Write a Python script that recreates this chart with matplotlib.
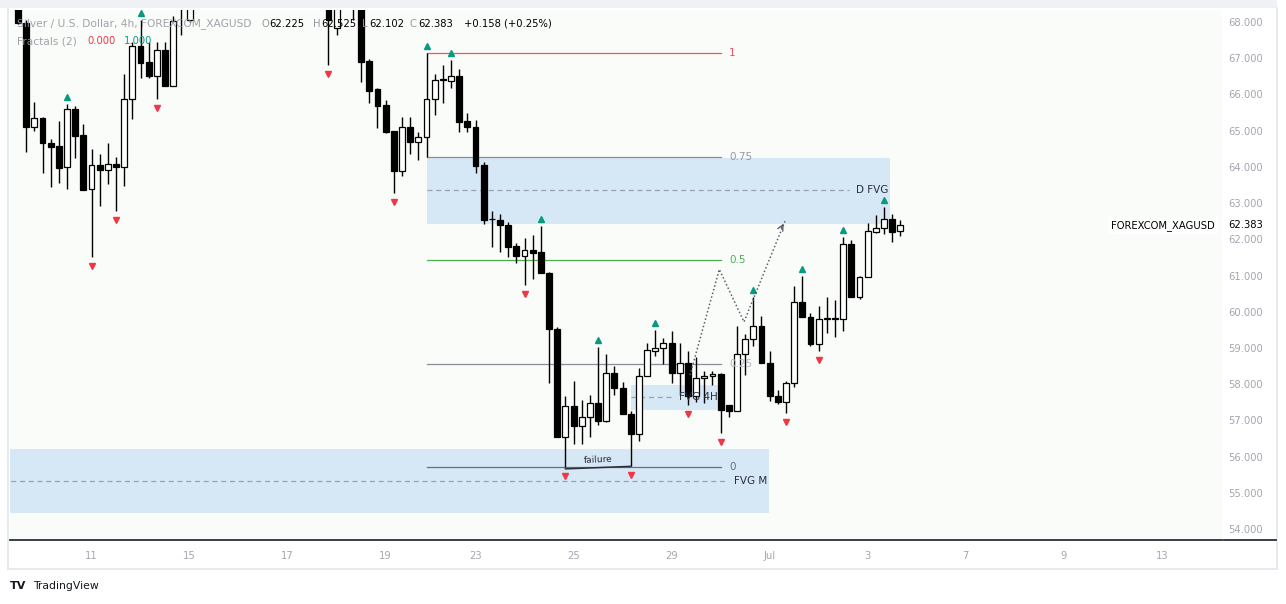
import matplotlib
matplotlib.use("Agg")
import matplotlib.pyplot as plt
import matplotlib.transforms as mtrans
from matplotlib.patches import Rectangle
from matplotlib.lines import Line2D

# ---------------- data ----------------
opens = [68.50, 67.98, 65.10, 65.35, 64.66, 64.58, 63.99, 65.60, 64.88, 63.39,
         64.05, 63.90, 64.08, 64.00, 65.87, 67.34, 66.90, 66.51, 67.22, 66.23,
         68.40, 68.05, 69.20, 69.60, 69.90, 69.70, 69.30, 69.80, 70.30, 70.50,
         70.10, 69.80, 70.00, 69.50, 69.20, 69.40, 69.00, 68.80, 68.90, 67.83,
         68.60, 68.70, 68.50, 66.92, 66.15, 65.71, 64.99, 63.88, 65.10, 64.69,
         64.82, 65.87, 66.40, 66.37, 66.50, 65.27, 65.10, 64.05, 62.56, 62.53,
         62.40, 61.81, 61.54, 61.70, 61.65, 61.07, 59.52, 56.54, 57.40, 56.84,
         57.09, 57.48, 56.98, 58.31, 57.90, 57.17, 56.62, 58.22, 58.92, 59.00,
         59.14, 58.31, 58.58, 57.67, 58.17, 58.22, 58.28, 57.42, 57.25, 58.83,
         59.25, 59.60, 58.58, 57.67, 57.50, 58.03, 60.27, 59.85, 59.10, 59.80,
         59.83, 59.80, 61.87, 60.40, 60.96, 62.20, 62.31, 62.56, 62.225]
highs = [68.70, 68.05, 65.79, 65.38, 64.77, 65.27, 65.74, 65.68, 65.18, 64.49,
         64.35, 64.66, 64.27, 66.56, 67.45, 68.05, 67.45, 67.45, 67.45, 68.17,
         69.10, 69.40, 69.80, 70.10, 70.40, 70.00, 69.90, 70.50, 70.80, 70.90,
         70.40, 70.20, 70.30, 69.90, 69.60, 69.70, 69.40, 69.20, 69.10, 68.80,
         69.00, 69.00, 68.70, 66.98, 66.18, 65.84, 64.99, 65.38, 65.38, 64.96,
         67.14, 66.56, 66.81, 66.95, 66.70, 65.49, 65.30, 64.13, 62.78, 62.70,
         62.48, 61.90, 62.04, 62.12, 62.37, 61.10, 59.57, 57.67, 58.08, 57.56,
         57.70, 59.03, 58.83, 58.50, 58.06, 57.25, 58.44, 59.14, 59.50, 59.27,
         59.47, 59.14, 58.92, 58.75, 58.36, 58.36, 58.30, 57.42, 59.60, 59.38,
         60.40, 59.88, 58.92, 57.84, 58.08, 60.71, 61.00, 59.96, 60.16, 60.40,
         60.32, 62.06, 61.98, 60.99, 62.45, 62.67, 62.89, 62.70, 62.525]
lows = [67.95, 64.40, 64.99, 63.83, 63.45, 63.55, 63.39, 64.24, 63.36, 61.51,
        62.92, 63.53, 62.78, 63.47, 65.32, 66.45, 66.45, 65.87, 66.23, 66.23,
        67.64, 68.00, 68.90, 69.30, 69.50, 69.10, 69.00, 69.60, 70.00, 69.90,
        69.60, 69.40, 69.30, 69.00, 68.80, 68.90, 68.60, 68.50, 66.80, 67.64,
        68.40, 68.05, 66.35, 65.76, 65.07, 64.94, 63.28, 63.75, 64.35, 64.19,
        64.27, 65.43, 65.76, 66.18, 64.96, 64.96, 63.83, 62.42, 61.80, 61.65,
        61.51, 61.35, 60.74, 60.90, 61.07, 58.03, 56.54, 55.71, 56.35, 56.35,
        56.54, 56.87, 56.95, 57.70, 57.17, 55.73, 56.43, 58.22, 58.78, 58.56,
        58.03, 57.70, 57.42, 57.50, 57.48, 57.97, 56.64, 57.09, 57.25, 58.25,
        59.06, 58.58, 57.53, 57.45, 57.20, 57.92, 59.85, 59.05, 58.91, 59.41,
        59.30, 59.47, 60.40, 60.35, 60.96, 62.17, 62.14, 61.92, 62.102]
closes = [67.98, 65.10, 65.35, 64.66, 64.55, 63.97, 65.60, 64.85, 63.36, 64.05,
          63.90, 64.08, 64.00, 65.87, 67.34, 66.87, 66.51, 67.22, 66.23, 68.03,
          68.90, 69.20, 69.60, 69.90, 69.70, 69.30, 69.80, 70.30, 70.50, 70.10,
          69.80, 70.00, 69.50, 69.20, 69.40, 69.00, 68.80, 68.90, 68.05, 68.60,
          68.70, 68.50, 66.90, 66.09, 65.68, 64.96, 63.88, 65.10, 64.69, 64.82,
          65.87, 66.40, 66.41, 66.51, 65.24, 65.10, 64.03, 62.53, 62.55, 62.40,
          61.79, 61.54, 61.70, 61.62, 61.07, 59.52, 56.54, 57.40, 56.84, 57.09,
          57.48, 56.98, 58.31, 57.90, 57.17, 56.62, 58.22, 58.94, 59.00, 59.14,
          58.31, 58.58, 57.67, 58.17, 58.22, 58.28, 57.28, 57.25, 58.83, 59.25,
          59.60, 58.58, 57.67, 57.50, 58.03, 60.27, 59.85, 59.10, 59.80, 59.81,
          59.80, 61.87, 60.40, 60.96, 62.23, 62.31, 62.56, 62.20, 62.383]

frac_up_idx = [6, 15, 50, 53, 64, 71, 78, 90, 96, 101, 106]
frac_dn_idx = [9, 12, 17, 38, 46, 62, 67, 75, 82, 86, 94, 98]

x_tick_pos = [9, 21, 33, 45, 56, 68, 80, 92, 104, 116, 128, 140]
x_tick_labels = ['11', '15', '17', '19', '23', '25', '29', 'Jul', '3', '7', '9', '13']
y_ticks = list(range(54, 69))

fib_start, fib_end = 50, 86
fib_levels = ['1', '0.75', '0.5', '0.25', '0']
fib_prices = [67.14, 64.27, 61.43, 58.56, 55.71]

# FVG zones
fvg_names = ['D FVG', 'FVG 4H', 'FVG M']
fvg_x0 = [50.0, 75.0, -2.0]
fvg_x1 = [106.75, 85.9, 91.9]
fvg_bottom = [62.42, 57.28, 54.44]
fvg_top = [64.24, 57.98, 56.21]
fvg_mid = [63.36, 57.64, 55.32]

zig_x = [82.25, 85.84, 88.86, 93.88]
zig_y = [58.25, 61.17, 59.72, 62.50]

fail_x = [67, 75]
fail_y = [55.66, 55.73]

last_price = 62.383

# ---------------- figure ----------------
W, H = 1286, 604
fig = plt.figure(figsize=(W / 100, H / 100), dpi=100)
fig.patch.set_facecolor('white')

def fx(px):
    return px / W

def fy(py):
    return 1 - py / H

L_, R_, T_, B_ = 10, 1222, 10, 540
ax = fig.add_axes([fx(L_), fy(B_), fx(R_) - fx(L_), fy(T_) - fy(B_)])
ax.set_facecolor('#fafcf9')
ppx = 8.17
ax.set_xlim((L_ - 18) / ppx, (R_ - 18) / ppx)
ppy = (529 - 22) / 14.0
ax.set_ylim(68 - (B_ - 22) / ppy, 68 - (T_ - 22) / ppy)

# widget frame
fig.patches.append(Rectangle((0, fy(8)), fx(1277), 8 / H, transform=fig.transFigure,
                             facecolor='#eff1f4', edgecolor='none', zorder=0))
for seg in [((8, 8), (8, 569)), ((1277, 8), (1277, 569)), ((8, 569), (1277, 569))]:
    fig.add_artist(Line2D([fx(seg[0][0]), fx(seg[1][0])], [fy(seg[0][1]), fy(seg[1][1])],
                          color='#e3e6ec', lw=1.2, transform=fig.transFigure))
fig.add_artist(Line2D([fx(1224), fx(1276)], [fy(540), fy(540)], color='#2a2e39', lw=1.3,
                      transform=fig.transFigure))

# spines / ticks
for s in ['top', 'left', 'right']:
    ax.spines[s].set_visible(False)
ax.spines['bottom'].set_color('#2a2e39')
ax.spines['bottom'].set_linewidth(1.3)
ax.yaxis.tick_right()
ax.set_yticks(y_ticks)
ax.set_yticklabels([f'{v:.3f}' for v in y_ticks])
ax.tick_params(axis='y', length=0, pad=4.5, labelsize=7.2, labelcolor='#a3a6af')
ax.set_xticks(x_tick_pos)
ax.set_xticklabels(x_tick_labels)
ax.tick_params(axis='x', length=0, pad=8, labelsize=7.2, labelcolor='#a3a6af')

# FVG zones
for name, x0, x1, b, t, m in zip(fvg_names, fvg_x0, fvg_x1, fvg_bottom, fvg_top, fvg_mid):
    ax.add_patch(Rectangle((x0, b), x1 - x0, t - b, facecolor='#d6e8f5',
                           edgecolor='none', zorder=1))
    lab_w = {'D FVG': 5.0, 'FVG 4H': 5.6, 'FVG M': 5.2}[name]
    ax.plot([x0, x1 - lab_w], [m, m], ls=(0, (4, 3)), color='#9aa1ab', lw=0.9, zorder=2)
    ax.text(x1 - 0.25, m, name, ha='right', va='center', fontsize=7.5, color='#2a2e39', zorder=6)

# Fibonacci levels
fib_line_colors = ['#f7525f', '#8a8d96', '#4caf50', '#8a8d96', '#6a6d78']
fib_text_colors = ['#f7525f', '#9598a1', '#4caf50', '#b2b5be', '#6a6d78']
for lvl, p, lc, tc in zip(fib_levels, fib_prices, fib_line_colors, fib_text_colors):
    ax.plot([fib_start, fib_end], [p, p], color=lc, lw=0.9, zorder=2)
    ax.text(fib_end + 1.05, p, lvl, ha='left', va='center', fontsize=7.5, color=tc, zorder=6)

# candles
for i, (o, h, l, c) in enumerate(zip(opens, highs, lows, closes)):
    ax.plot([i, i], [l, h], color='black', lw=1.0, zorder=4, solid_capstyle='butt')
    up = c >= o
    bot = min(o, c)
    ht = max(abs(c - o), 0.015)
    ax.add_patch(Rectangle((i - 0.36, bot), 0.72, ht, facecolor='white' if up else 'black',
                           edgecolor='black', lw=0.9, zorder=5))

# fractals
up_tr = mtrans.offset_copy(ax.transData, fig=fig, x=0, y=7, units='dots')
dn_tr = mtrans.offset_copy(ax.transData, fig=fig, x=0, y=-9, units='dots')
ax.plot(frac_up_idx, [highs[i] for i in frac_up_idx], ls='none', marker='^', ms=4.6,
        color='#089981', transform=up_tr, zorder=6)
ax.plot(frac_dn_idx, [lows[i] for i in frac_dn_idx], ls='none', marker='v', ms=4.6,
        color='#f23645', transform=dn_tr, zorder=6)

# zigzag projection
ax.plot(zig_x, zig_y, ls=(0, (1, 1.5)), color='#5d606b', lw=1.1, zorder=6)
ax.annotate('', xy=(zig_x[-1], zig_y[-1]), xytext=(zig_x[-1] - 0.6, zig_y[-1] - 0.25),
            arrowprops=dict(arrowstyle='->', color='#5d606b', lw=1.0), zorder=6)

# failure line
ax.plot(fail_x, fail_y, color='#2a2e39', lw=1.1, zorder=6)
ax.text((fail_x[0] + fail_x[1]) / 2, (fail_y[0] + fail_y[1]) / 2 + 0.22, 'failure',
        ha='center', va='center', fontsize=6.5, color='#2a2e39', rotation=2.5, zorder=6)

# last price labels
yt = mtrans.blended_transform_factory(ax.transAxes, ax.transData)
ax.text(1 + 6.5 / (R_ - L_), last_price, f'{last_price:.3f}', transform=yt, ha='left', va='center',
        fontsize=7.2, color='black', clip_on=False, zorder=7)
ax.text(1 - 7 / (R_ - L_), last_price, 'FOREXCOM_XAGUSD', transform=yt, ha='right', va='center',
        fontsize=7.2, color='black', zorder=7,
        bbox=dict(facecolor='white', edgecolor='none', pad=2.0))

# header
grey = '#9598a1'
fig.text(fx(17), fy(24), 'Silver / U.S. Dollar, 4h, FOREXCOM_XAGUSD', fontsize=7.7, color=grey,
         va='center', ha='left', alpha=0.9)
for s, x, col in [('O', 261, grey), ('62.225', 269, 'black'), ('H', 313, grey),
                  ('62.525', 321, 'black'), ('L', 362, grey), ('62.102', 369, 'black'),
                  ('C', 410, grey), ('62.383', 418, 'black'), ('+0.158 (+0.25%)', 464, 'black')]:
    fig.text(fx(x), fy(24), s, fontsize=7.2, color=col, va='center', ha='left')
fig.text(fx(17), fy(41), 'Fractals (2)', fontsize=7.7, color=grey, va='center', ha='left', alpha=0.9)
fig.text(fx(87), fy(41), '0.000', fontsize=7.2, color='#f23645', va='center', ha='left')
fig.text(fx(124), fy(41), '1.000', fontsize=7.2, color='#089981', va='center', ha='left')

# TradingView mark
fig.text(fx(10), fy(586), 'TV', fontsize=8, fontweight='bold', color='#131722', va='center', ha='left')
fig.text(fx(33), fy(586), 'TradingView', fontsize=7.8, color='#131722', va='center', ha='left')

fig.savefig('out.png', dpi=100, facecolor='white')
